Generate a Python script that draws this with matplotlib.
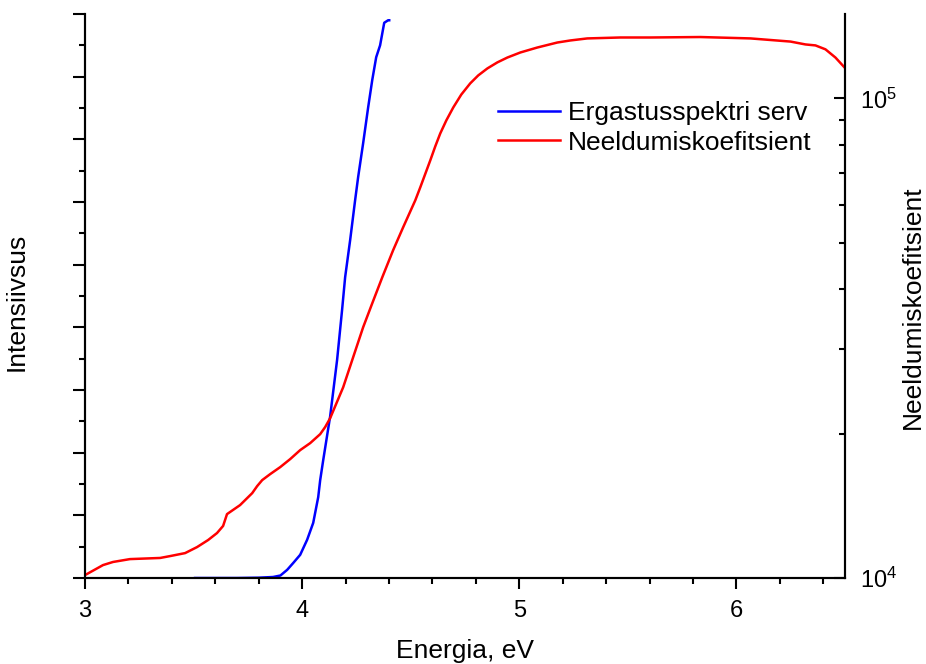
import numpy as np
import matplotlib
matplotlib.use('Agg')
import matplotlib.pyplot as plt
from matplotlib.ticker import MultipleLocator, LogFormatterMathtext, NullFormatter

plt.rcParams['font.family'] = ['Liberation Sans', 'DejaVu Sans']

# excitation spectrum edge (left axis, arbitrary units)
e_exc = [3.507, 3.700, 3.800, 3.866, 3.900, 3.931, 3.959, 3.991, 4.023, 4.051,
         4.074, 4.083, 4.097, 4.129, 4.161, 4.184, 4.198, 4.221, 4.244, 4.258,
         4.281, 4.304, 4.323, 4.341, 4.359, 4.378, 4.396, 4.401]
intensity = [0, 0, 0.005, 0.016, 0.04, 0.13, 0.24, 0.37, 0.61, 0.88,
             1.29, 1.56, 1.88, 2.58, 3.48, 4.28, 4.80, 5.39, 6.03, 6.40,
             6.94, 7.51, 7.95, 8.31, 8.50, 8.86, 8.90, 8.90]

# absorption coefficient (right axis, log)
e_abs = [3.000, 3.083, 3.129, 3.207, 3.346, 3.392, 3.461, 3.516, 3.567, 3.608,
         3.636, 3.654, 3.714, 3.770, 3.793, 3.816, 3.853, 3.899, 3.945, 3.991,
         4.037, 4.083, 4.106, 4.129, 4.189, 4.235, 4.281, 4.323, 4.369, 4.419,
         4.465, 4.521, 4.544, 4.590, 4.613, 4.636, 4.664, 4.696, 4.733, 4.774,
         4.811, 4.853, 4.899, 4.945, 5.005, 5.083, 5.175, 5.235, 5.313, 5.465,
         5.604, 5.834, 6.065, 6.249, 6.318, 6.364, 6.410, 6.456, 6.502]
alpha = [1.014e4, 1.064e4, 1.080e4, 1.095e4, 1.101e4, 1.111e4, 1.127e4, 1.160e4, 1.200e4, 1.241e4,
         1.284e4, 1.359e4, 1.419e4, 1.503e4, 1.555e4, 1.600e4, 1.647e4, 1.703e4, 1.770e4, 1.848e4,
         1.911e4, 1.995e4, 2.064e4, 2.154e4, 2.499e4, 2.887e4, 3.334e4, 3.741e4, 4.237e4, 4.825e4,
         5.385e4, 6.131e4, 6.525e4, 7.426e4, 7.943e4, 8.453e4, 9.000e4, 9.577e4, 1.019e5, 1.075e5,
         1.117e5, 1.155e5, 1.189e5, 1.217e5, 1.247e5, 1.277e5, 1.308e5, 1.321e5, 1.334e5, 1.340e5,
         1.340e5, 1.343e5, 1.334e5, 1.314e5, 1.296e5, 1.290e5, 1.266e5, 1.217e5, 1.155e5]

fig = plt.figure(figsize=(9.26, 6.64), dpi=100)
ax = fig.add_axes([85 / 926, 86 / 664, 760 / 926, 564 / 664])
ax2 = ax.twinx()

l1, = ax.plot(e_exc, intensity, color='#0000ff', lw=1.8, label='Ergastusspektri serv')
l2, = ax2.plot(e_abs, alpha, color='#ff0000', lw=1.8, label='Neeldumiskoefitsient')

ax.set_xlim(3, 6.5)
ax.set_ylim(0, 9)
ax2.set_yscale('log')
ax2.set_ylim(1e4, 1.5e5)

for a in (ax, ax2):
    a.spines['top'].set_visible(False)
    for s in ('left', 'right', 'bottom'):
        a.spines[s].set_linewidth(1.5)

ax.xaxis.set_major_locator(MultipleLocator(1))
ax.xaxis.set_minor_locator(MultipleLocator(0.2))
ax.yaxis.set_major_locator(MultipleLocator(1))
ax.yaxis.set_minor_locator(MultipleLocator(0.5))
ax.yaxis.set_major_formatter(NullFormatter())
ax.tick_params(axis='x', which='major', direction='out', length=8, width=1.5,
               labelsize=17, pad=8)
ax.tick_params(axis='x', which='minor', direction='out', length=4.5, width=1.5)
ax.tick_params(axis='y', which='major', direction='out', length=9, width=1.5)
ax.tick_params(axis='y', which='minor', direction='out', length=4.5, width=1.5)

ax2.yaxis.set_major_formatter(LogFormatterMathtext())
ax2.yaxis.set_minor_formatter(NullFormatter())
ax2.tick_params(axis='y', which='major', direction='in', length=8, width=1.5,
                labelsize=17, pad=11)
ax2.tick_params(axis='y', which='minor', direction='in', length=4.5, width=1.5)

ax.set_xlabel('Energia, eV', fontsize=19, labelpad=12)
ax.set_ylabel('Intensiivsus', fontsize=19)
ax.yaxis.set_label_coords(-0.074, 0.49)
ax2.set_ylabel('Neeldumiskoefitsient', fontsize=19)
ax2.yaxis.set_label_coords(1.073, 0.48)

ax2.legend(handles=[l1, l2], loc='upper left', bbox_to_anchor=(0.543, 0.845),
           frameon=False, fontsize=19, borderaxespad=0, borderpad=0,
           handlelength=2.35, handletextpad=0.3, labelspacing=0.2)

fig.savefig('out.png', dpi=100)
